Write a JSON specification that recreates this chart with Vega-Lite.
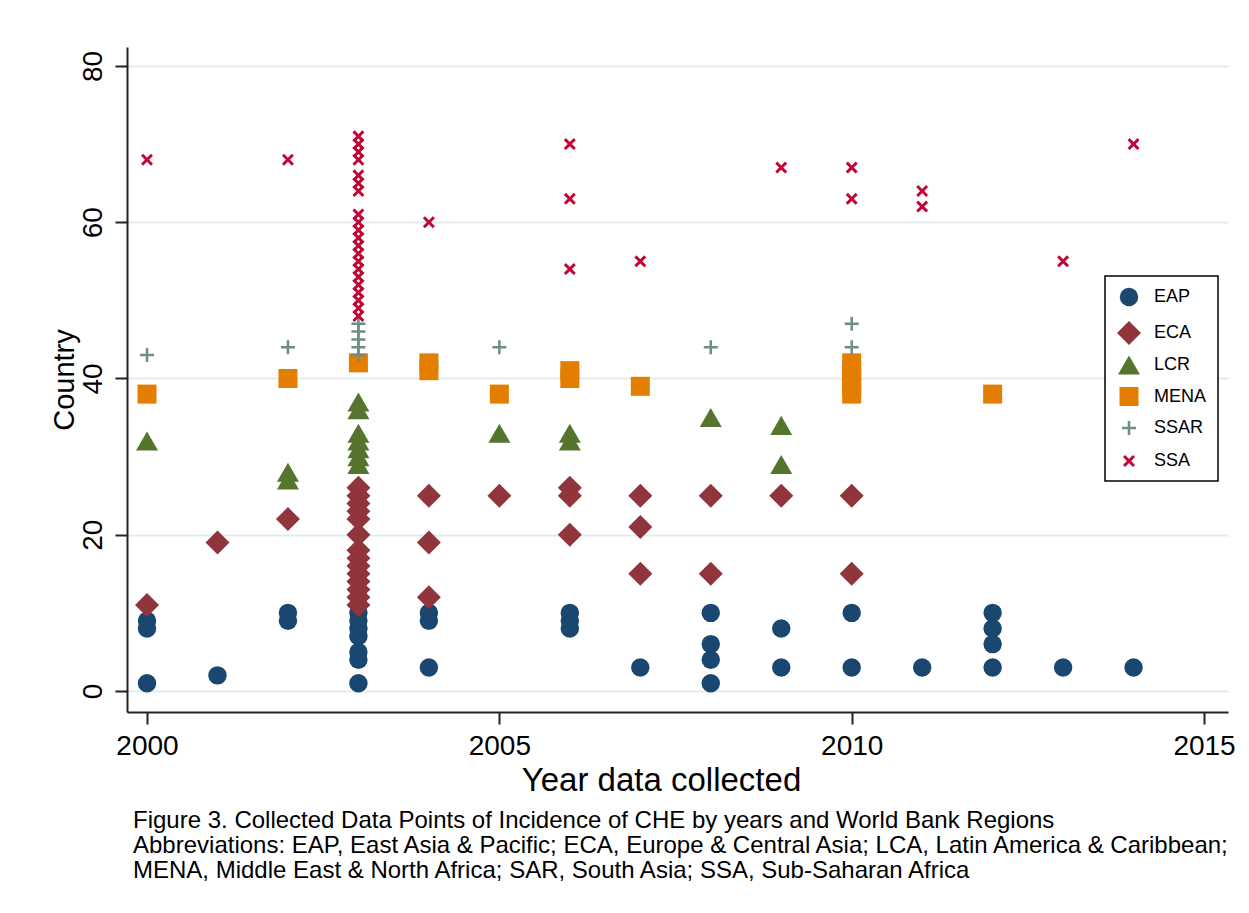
{
  "$schema": "https://vega.github.io/schema/vega-lite/v6.json",
  "width": 1101,
  "height": 665,
  "autosize": {"type": "none"},
  "padding": {"left": 127, "top": 47, "right": 21, "bottom": 201},
  "background": "white",
  "config": {"view": {"stroke": null}, "font": "Liberation Sans"},
  "title": {
    "text": [
      "Figure 3. Collected Data Points of Incidence of CHE by years and World Bank Regions",
      "Abbreviations: EAP, East Asia & Pacific; ECA, Europe & Central Asia; LCA, Latin America & Caribbean;",
      "MENA, Middle East & North Africa; SAR, South Asia; SSA, Sub-Saharan Africa"
    ],
    "orient": "bottom",
    "anchor": "start",
    "frame": "group",
    "font": "Liberation Sans",
    "fontSize": 24,
    "fontWeight": "normal",
    "lineHeight": 25,
    "offset": 12,
    "dx": 6,
    "color": "black"
  },
  "data": {
    "values": [
      {"year": 2000, "country": 9, "region": "EAP"},
      {"year": 2000, "country": 8, "region": "EAP"},
      {"year": 2000, "country": 1, "region": "EAP"},
      {"year": 2001, "country": 2, "region": "EAP"},
      {"year": 2002, "country": 10, "region": "EAP"},
      {"year": 2002, "country": 9, "region": "EAP"},
      {"year": 2003, "country": 10, "region": "EAP"},
      {"year": 2003, "country": 9, "region": "EAP"},
      {"year": 2003, "country": 8, "region": "EAP"},
      {"year": 2003, "country": 7, "region": "EAP"},
      {"year": 2003, "country": 5, "region": "EAP"},
      {"year": 2003, "country": 4, "region": "EAP"},
      {"year": 2003, "country": 1, "region": "EAP"},
      {"year": 2004, "country": 10, "region": "EAP"},
      {"year": 2004, "country": 9, "region": "EAP"},
      {"year": 2004, "country": 3, "region": "EAP"},
      {"year": 2006, "country": 10, "region": "EAP"},
      {"year": 2006, "country": 9, "region": "EAP"},
      {"year": 2006, "country": 8, "region": "EAP"},
      {"year": 2007, "country": 3, "region": "EAP"},
      {"year": 2008, "country": 10, "region": "EAP"},
      {"year": 2008, "country": 6, "region": "EAP"},
      {"year": 2008, "country": 4, "region": "EAP"},
      {"year": 2008, "country": 1, "region": "EAP"},
      {"year": 2009, "country": 8, "region": "EAP"},
      {"year": 2009, "country": 3, "region": "EAP"},
      {"year": 2010, "country": 10, "region": "EAP"},
      {"year": 2010, "country": 3, "region": "EAP"},
      {"year": 2011, "country": 3, "region": "EAP"},
      {"year": 2012, "country": 10, "region": "EAP"},
      {"year": 2012, "country": 8, "region": "EAP"},
      {"year": 2012, "country": 6, "region": "EAP"},
      {"year": 2012, "country": 3, "region": "EAP"},
      {"year": 2013, "country": 3, "region": "EAP"},
      {"year": 2014, "country": 3, "region": "EAP"},

      {"year": 2000, "country": 11, "region": "ECA"},
      {"year": 2001, "country": 19, "region": "ECA"},
      {"year": 2002, "country": 22, "region": "ECA"},
      {"year": 2003, "country": 26, "region": "ECA"},
      {"year": 2003, "country": 25, "region": "ECA"},
      {"year": 2003, "country": 24, "region": "ECA"},
      {"year": 2003, "country": 23, "region": "ECA"},
      {"year": 2003, "country": 22, "region": "ECA"},
      {"year": 2003, "country": 20, "region": "ECA"},
      {"year": 2003, "country": 18, "region": "ECA"},
      {"year": 2003, "country": 17, "region": "ECA"},
      {"year": 2003, "country": 16, "region": "ECA"},
      {"year": 2003, "country": 15, "region": "ECA"},
      {"year": 2003, "country": 14, "region": "ECA"},
      {"year": 2003, "country": 13, "region": "ECA"},
      {"year": 2003, "country": 12, "region": "ECA"},
      {"year": 2003, "country": 11, "region": "ECA"},
      {"year": 2004, "country": 25, "region": "ECA"},
      {"year": 2004, "country": 19, "region": "ECA"},
      {"year": 2004, "country": 12, "region": "ECA"},
      {"year": 2005, "country": 25, "region": "ECA"},
      {"year": 2006, "country": 26, "region": "ECA"},
      {"year": 2006, "country": 25, "region": "ECA"},
      {"year": 2006, "country": 20, "region": "ECA"},
      {"year": 2007, "country": 25, "region": "ECA"},
      {"year": 2007, "country": 21, "region": "ECA"},
      {"year": 2007, "country": 15, "region": "ECA"},
      {"year": 2008, "country": 25, "region": "ECA"},
      {"year": 2008, "country": 15, "region": "ECA"},
      {"year": 2009, "country": 25, "region": "ECA"},
      {"year": 2010, "country": 25, "region": "ECA"},
      {"year": 2010, "country": 15, "region": "ECA"},

      {"year": 2000, "country": 32, "region": "LCR"},
      {"year": 2002, "country": 28, "region": "LCR"},
      {"year": 2002, "country": 27, "region": "LCR"},
      {"year": 2003, "country": 37, "region": "LCR"},
      {"year": 2003, "country": 36, "region": "LCR"},
      {"year": 2003, "country": 33, "region": "LCR"},
      {"year": 2003, "country": 32, "region": "LCR"},
      {"year": 2003, "country": 31, "region": "LCR"},
      {"year": 2003, "country": 30, "region": "LCR"},
      {"year": 2003, "country": 29, "region": "LCR"},
      {"year": 2005, "country": 33, "region": "LCR"},
      {"year": 2006, "country": 33, "region": "LCR"},
      {"year": 2006, "country": 32, "region": "LCR"},
      {"year": 2008, "country": 35, "region": "LCR"},
      {"year": 2009, "country": 34, "region": "LCR"},
      {"year": 2009, "country": 29, "region": "LCR"},

      {"year": 2000, "country": 38, "region": "MENA"},
      {"year": 2002, "country": 40, "region": "MENA"},
      {"year": 2003, "country": 42, "region": "MENA"},
      {"year": 2004, "country": 42, "region": "MENA"},
      {"year": 2004, "country": 41, "region": "MENA"},
      {"year": 2005, "country": 38, "region": "MENA"},
      {"year": 2006, "country": 41, "region": "MENA"},
      {"year": 2006, "country": 40, "region": "MENA"},
      {"year": 2007, "country": 39, "region": "MENA"},
      {"year": 2010, "country": 42, "region": "MENA"},
      {"year": 2010, "country": 41, "region": "MENA"},
      {"year": 2010, "country": 40, "region": "MENA"},
      {"year": 2010, "country": 39, "region": "MENA"},
      {"year": 2010, "country": 38, "region": "MENA"},
      {"year": 2012, "country": 38, "region": "MENA"},

      {"year": 2000, "country": 43, "region": "SSAR"},
      {"year": 2002, "country": 44, "region": "SSAR"},
      {"year": 2003, "country": 47, "region": "SSAR"},
      {"year": 2003, "country": 46, "region": "SSAR"},
      {"year": 2003, "country": 45, "region": "SSAR"},
      {"year": 2003, "country": 44, "region": "SSAR"},
      {"year": 2003, "country": 43, "region": "SSAR"},
      {"year": 2005, "country": 44, "region": "SSAR"},
      {"year": 2008, "country": 44, "region": "SSAR"},
      {"year": 2010, "country": 47, "region": "SSAR"},
      {"year": 2010, "country": 44, "region": "SSAR"},

      {"year": 2000, "country": 68, "region": "SSA"},
      {"year": 2002, "country": 68, "region": "SSA"},
      {"year": 2003, "country": 71, "region": "SSA"},
      {"year": 2003, "country": 70, "region": "SSA"},
      {"year": 2003, "country": 69, "region": "SSA"},
      {"year": 2003, "country": 68, "region": "SSA"},
      {"year": 2003, "country": 66, "region": "SSA"},
      {"year": 2003, "country": 65, "region": "SSA"},
      {"year": 2003, "country": 64, "region": "SSA"},
      {"year": 2003, "country": 61, "region": "SSA"},
      {"year": 2003, "country": 60, "region": "SSA"},
      {"year": 2003, "country": 59, "region": "SSA"},
      {"year": 2003, "country": 58, "region": "SSA"},
      {"year": 2003, "country": 57, "region": "SSA"},
      {"year": 2003, "country": 56, "region": "SSA"},
      {"year": 2003, "country": 55, "region": "SSA"},
      {"year": 2003, "country": 54, "region": "SSA"},
      {"year": 2003, "country": 53, "region": "SSA"},
      {"year": 2003, "country": 52, "region": "SSA"},
      {"year": 2003, "country": 51, "region": "SSA"},
      {"year": 2003, "country": 50, "region": "SSA"},
      {"year": 2003, "country": 49, "region": "SSA"},
      {"year": 2003, "country": 48, "region": "SSA"},
      {"year": 2004, "country": 60, "region": "SSA"},
      {"year": 2006, "country": 70, "region": "SSA"},
      {"year": 2006, "country": 63, "region": "SSA"},
      {"year": 2006, "country": 54, "region": "SSA"},
      {"year": 2007, "country": 55, "region": "SSA"},
      {"year": 2009, "country": 67, "region": "SSA"},
      {"year": 2010, "country": 67, "region": "SSA"},
      {"year": 2010, "country": 63, "region": "SSA"},
      {"year": 2011, "country": 64, "region": "SSA"},
      {"year": 2011, "country": 62, "region": "SSA"},
      {"year": 2013, "country": 55, "region": "SSA"},
      {"year": 2014, "country": 70, "region": "SSA"}
    ]
  },
  "mark": {"type": "point", "filled": true, "opacity": 1, "strokeWidth": 0},
  "encoding": {
    "x": {
      "field": "year",
      "type": "quantitative",
      "scale": {"domain": [1999.716, 2015.34], "nice": false, "zero": false},
      "axis": {
        "values": [2000, 2005, 2010, 2015],
        "format": "d",
        "grid": false,
        "title": "Year data collected",
        "domainColor": "#222222",
        "domainWidth": 2,
        "tickColor": "#222222",
        "tickWidth": 2,
        "tickSize": 12,
        "labelFont": "Liberation Sans",
        "labelFontSize": 28,
        "labelColor": "black",
        "labelPadding": 8,
        "labelFlush": false,
        "titleFont": "Liberation Sans",
        "titleFontSize": 33,
        "titleFontWeight": "normal",
        "titleColor": "black",
        "titlePadding": 4,
        "titleX": 534
      }
    },
    "y": {
      "field": "country",
      "type": "quantitative",
      "scale": {"domain": [-2.69, 82.43], "nice": false, "zero": false},
      "axis": {
        "values": [0, 20, 40, 60, 80],
        "grid": true,
        "gridColor": "#e3ebee",
        "gridWidth": 2,
        "title": "Country",
        "domainColor": "#222222",
        "domainWidth": 2,
        "tickColor": "#222222",
        "tickWidth": 2,
        "tickSize": 12,
        "labelAngle": 270,
        "labelFont": "Liberation Sans",
        "labelFontSize": 28,
        "labelColor": "black",
        "labelPadding": 8,
        "labelFlush": false,
        "titleFont": "Liberation Sans",
        "titleFontSize": 29,
        "titleFontWeight": "normal",
        "titleColor": "black",
        "titlePadding": 0
      }
    },
    "color": {
      "field": "region",
      "type": "nominal",
      "scale": {
        "domain": ["EAP", "ECA", "LCR", "MENA", "SSAR", "SSA"],
        "range": ["#1a476f", "#90353b", "#55752f", "#e37e00", "#6e8e84", "#c10534"]
      },
      "legend": {
        "orient": "none",
        "legendX": 978,
        "legendY": 229,
        "title": null,
        "strokeColor": "black",
        "fillColor": "white",
        "padding": 11,
        "gridAlign": "all",
        "labelFont": "Liberation Sans",
        "labelFontSize": 18,
        "labelColor": "black",
        "labelOffset": 12,
        "rowPadding": 8,
        "symbolOpacity": 1,
        "encode": {"legend": {"update": {"strokeWidth": {"value": 1.5}}}}
      }
    },
    "shape": {
      "field": "region",
      "type": "nominal",
      "scale": {
        "domain": ["EAP", "ECA", "LCR", "MENA", "SSAR", "SSA"],
        "range": [
          "circle",
          "diamond",
          "triangle-up",
          "square",
          "M-1,-0.18H-0.18V-1H0.18V-0.18H1V0.18H0.18V1H-0.18V0.18H-1Z",
          "M-1,-0.65L-0.65,-1L0,-0.35L0.65,-1L1,-0.65L0.35,0L1,0.65L0.65,1L0,0.35L-0.65,1L-1,0.65L-0.35,0Z"
        ]
      }
    },
    "size": {
      "field": "region",
      "type": "nominal",
      "scale": {
        "type": "ordinal",
        "domain": ["EAP", "ECA", "LCR", "MENA", "SSAR", "SSA"],
        "range": [340, 576, 484, 361, 196, 144]
      }
    }
  }
}
